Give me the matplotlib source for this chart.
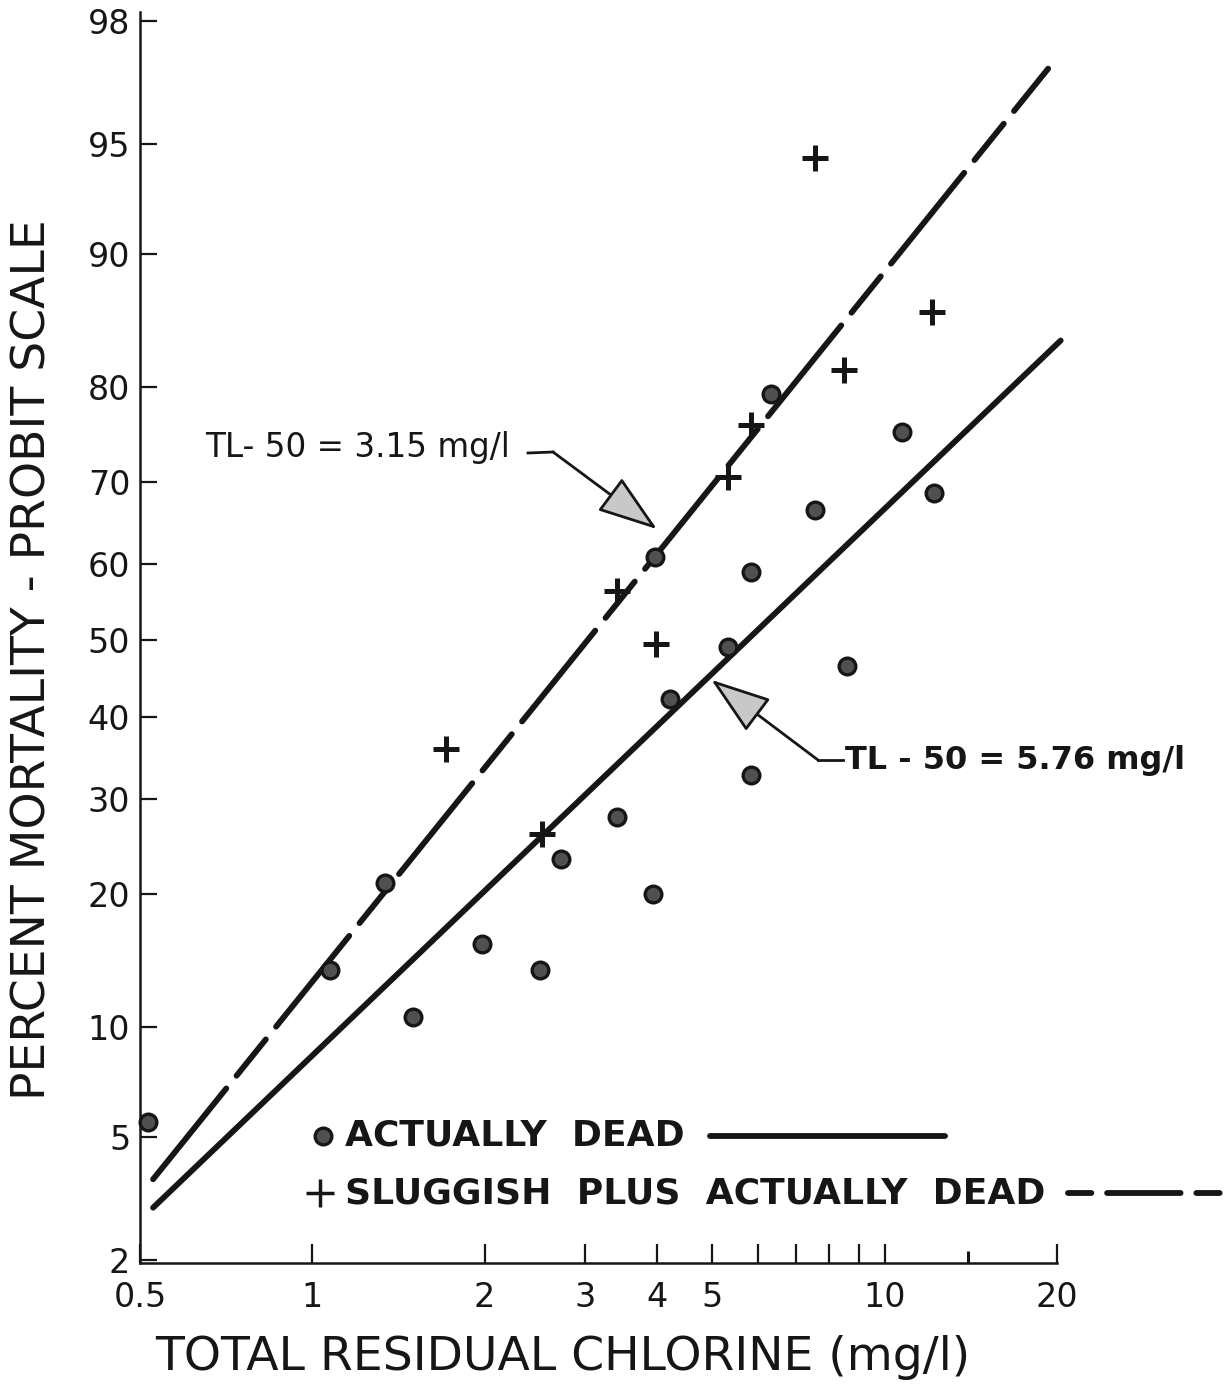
import numpy as np
import matplotlib
matplotlib.use("Agg")
import matplotlib.pyplot as plt
from matplotlib.ticker import FixedLocator, FixedFormatter, NullLocator, NullFormatter
from statistics import NormalDist

# ---------------- data ----------------
dead_x = [0.516, 1.075, 1.34, 1.50, 1.98, 2.50, 2.72, 3.41, 3.94, 3.97, 4.21, 5.32, 5.85, 5.85, 6.34, 7.54, 8.60, 10.7, 12.2]
dead_y = [5.5, 13.7, 21.1, 10.6, 15.7, 13.7, 23.4, 27.9, 20.0, 60.9, 42.3, 49.1, 59.0, 32.8, 79.3, 66.7, 46.6, 75.5, 68.7]

slug_x = [1.71, 2.52, 3.41, 3.98, 5.32, 5.85, 7.54, 8.50, 12.1]
slug_y = [36.0, 26.0, 56.5, 49.5, 70.6, 76.2, 94.5, 81.5, 86.2]

dead_fit_x = [0.527, 20.3]
dead_fit_y = [3.0, 84.0]
slug_fit_x = [0.527, 19.3]
slug_fit_y = [3.7, 97.1]

tl50_slug = (4.0, 64.4)
tl50_dead = (4.98, 44.8)

y_ticks = [2, 5, 10, 20, 30, 40, 50, 60, 70, 80, 90, 95, 98]
y_ticklabels = ["2", "5", "10", "20", "30", "40", "50", "60", "70", "80", "90", "95", "98"]
x_major = [0.5, 1, 2, 3, 4, 5, 6, 7, 8, 9, 10, 20]
x_labels = ["0.5", "1", "2", "3", "4", "5", "", "", "", "", "10", "20"]
x_minor = [14]

# ---------------- probit scale ----------------
_nd = NormalDist()


def _fwd(p):
    a = np.asarray(p, dtype=float)
    flat = a.ravel()
    out = np.empty_like(flat)
    for i, v in enumerate(flat):
        if not np.isfinite(v):
            out[i] = np.nan
            continue
        q = min(max(v / 100.0, 1e-9), 1 - 1e-9)
        out[i] = _nd.inv_cdf(q)
    return out.reshape(a.shape)


def _inv(z):
    a = np.asarray(z, dtype=float)
    flat = a.ravel()
    out = np.empty_like(flat)
    for i, v in enumerate(flat):
        if not np.isfinite(v):
            out[i] = np.nan
            continue
        out[i] = _nd.cdf(v) * 100.0
    return out.reshape(a.shape)


W, H = 1225, 1387
fig = plt.figure(figsize=(W / 100, H / 100), dpi=100)
fig.patch.set_facecolor("white")


def px(x, y):
    return (x / W, 1 - y / H)


ax = fig.add_axes([140 / W, (H - 1263) / H, (1057 - 140) / W, (1263 - 12) / H])
ax.set_xscale("log")
ax.set_yscale("function", functions=(_fwd, _inv))
ax.set_xlim(0.5, 20)
ax.set_ylim(1.95, 98.14)

ink = "#161616"
dot_face = "#505050"

# fitted lines
ax.plot(dead_fit_x, dead_fit_y, color=ink, lw=4.2, solid_capstyle="round", clip_on=False, zorder=3)
ax.plot(slug_fit_x, slug_fit_y, color=ink, lw=4.2, dashes=(20, 2.8, 8, 2.8), dash_capstyle="round",
        clip_on=False, zorder=3)

# points
ax.plot(dead_x, dead_y, "o", ms=12, mfc=dot_face, mec=ink, mew=2.4, ls="none", zorder=4, clip_on=False)
ax.plot(slug_x, slug_y, "+", ms=19, mec=ink, mew=3.6, ls="none", zorder=4)

# axes styling
for s in ["top", "right"]:
    ax.spines[s].set_visible(False)
for s in ["left", "bottom"]:
    ax.spines[s].set_linewidth(1.8)
    ax.spines[s].set_color(ink)

ax.yaxis.set_major_locator(FixedLocator(y_ticks))
ax.yaxis.set_major_formatter(FixedFormatter(y_ticklabels))
ax.yaxis.set_minor_locator(NullLocator())
ax.xaxis.set_major_locator(FixedLocator(x_major))
ax.xaxis.set_major_formatter(FixedFormatter(x_labels))
ax.xaxis.set_minor_locator(FixedLocator(x_minor))
ax.xaxis.set_minor_formatter(NullFormatter())

ax.tick_params(axis="both", which="major", direction="in", length=14, width=1.6, color=ink,
               labelsize=24, labelcolor=ink)
ax.tick_params(axis="x", which="major", pad=13)
ax.tick_params(axis="y", which="major", pad=7, length=12)
ax.tick_params(axis="x", which="minor", direction="in", length=9, width=2.2, color=ink)

# axis labels
fig.text(*px(33, 660), "PERCENT MORTALITY - PROBIT SCALE", rotation=90, ha="center", va="center",
         fontsize=34, color=ink)
fig.text(*px(563, 1358), "TOTAL RESIDUAL CHLORINE (mg/l)", ha="center", va="center",
         fontsize=34, color=ink)

# annotations
fig.text(*px(205, 447), "TL- 50 = 3.15 mg/l", ha="left", va="center", fontsize=23.5, color=ink)
fig.add_artist(plt.Line2D([528 / W, 553 / W], [1 - 453 / H, 1 - 452 / H], color=ink, lw=2))
ax.annotate("", xy=tl50_slug, xycoords="data", xytext=px(553, 452), textcoords="figure fraction",
            arrowprops=dict(arrowstyle="-|>,head_length=1.9,head_width=0.65", fc="#c8c8c8", ec=ink,
                            lw=2, mutation_scale=20, shrinkA=0, shrinkB=0), zorder=5)

fig.text(*px(845, 760), "TL - 50 = 5.76 mg/l", ha="left", va="center", fontsize=23,
         fontweight="bold", color=ink)
fig.add_artist(plt.Line2D([818 / W, 843 / W], [1 - 760 / H, 1 - 760 / H], color=ink, lw=2))
ax.annotate("", xy=tl50_dead, xycoords="data", xytext=px(818, 760), textcoords="figure fraction",
            arrowprops=dict(arrowstyle="-|>,head_length=1.9,head_width=0.65", fc="#c8c8c8", ec=ink,
                            lw=2, mutation_scale=20, shrinkA=0, shrinkB=0), zorder=5)

# legend (manual)
fig.add_artist(plt.Line2D([323 / W], [1 - 1136 / H], marker="o", ms=12, mfc=dot_face, mec=ink, mew=2.4))
fig.text(*px(345, 1136), "ACTUALLY  DEAD", ha="left", va="center", fontsize=26, fontweight="bold", color=ink)
fig.add_artist(plt.Line2D([710 / W, 945 / W], [1 - 1136 / H, 1 - 1136 / H], color=ink, lw=4.2,
                          solid_capstyle="round"))
fig.add_artist(plt.Line2D([320 / W], [1 - 1193 / H], marker="+", ms=20, mec=ink, mew=2.5))
fig.text(*px(345, 1193), "SLUGGISH  PLUS  ACTUALLY  DEAD", ha="left", va="center", fontsize=26,
         fontweight="bold", color=ink)
fig.add_artist(plt.Line2D([1068 / W, 1240 / W], [1 - 1193 / H, 1 - 1193 / H], color=ink, lw=4.2,
                          dashes=(4, 2.7, 12.6, 2.7), dash_capstyle="round"))

fig.savefig("out.png", dpi=100)
